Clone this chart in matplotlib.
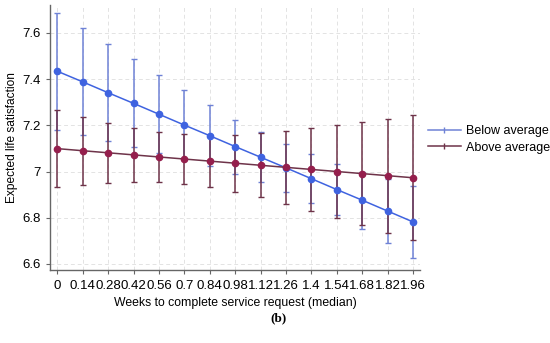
import matplotlib
matplotlib.use('Agg')
import matplotlib.pyplot as plt
from matplotlib.lines import Line2D

plt.rcParams['font.family'] = ['Liberation Sans', 'DejaVu Sans']

# margins by weeks to complete service request
weeks = [0, 0.14, 0.28, 0.42, 0.56, 0.7, 0.84, 0.98, 1.12, 1.26, 1.4, 1.54, 1.68, 1.82, 1.96]
week_labels = ['0', '0.14', '0.28', '0.42', '0.56', '0.7', '0.84', '0.98', '1.12',
               '1.26', '1.4', '1.54', '1.68', '1.82', '1.96']

below_mean = [7.434, 7.388, 7.341, 7.295, 7.248, 7.201, 7.155, 7.108, 7.062,
              7.016, 6.969, 6.922, 6.876, 6.829, 6.782]
below_ci = [0.253, 0.232, 0.211, 0.190, 0.169, 0.150, 0.132, 0.117, 0.108,
            0.104, 0.105, 0.112, 0.123, 0.138, 0.155]

above_mean = [7.099, 7.090, 7.081, 7.072, 7.063, 7.054, 7.045, 7.036, 7.027,
              7.018, 7.009, 7.000, 6.991, 6.982, 6.973]
above_ci = [0.167, 0.147, 0.130, 0.118, 0.110, 0.107, 0.112, 0.123, 0.139,
            0.157, 0.178, 0.200, 0.223, 0.247, 0.271]

y_ticks = [6.6, 6.8, 7.0, 7.2, 7.4, 7.6]
y_labels = ['6.6', '6.8', '7', '7.2', '7.4', '7.6']

BLUE_PT = '#3f63e0'
BLUE_BAR = '#6f82d6'
RED_PT = '#951f4d'
RED_BAR = '#6e3349'

fig = plt.figure(figsize=(5.5, 3.43), dpi=100)
ax = fig.add_axes([0.091, 0.213, 0.673, 0.772])

ax.grid(True, color='#e3e3e3', linestyle=(0, (4, 3)), linewidth=0.7)
ax.set_axisbelow(True)

ax.errorbar(weeks, below_mean, yerr=below_ci, fmt='none', ecolor=BLUE_BAR,
            elinewidth=1.1, capsize=2.5, capthick=1.0, zorder=2)
ax.errorbar(weeks, above_mean, yerr=above_ci, fmt='none', ecolor=RED_BAR,
            elinewidth=1.1, capsize=2.5, capthick=1.0, zorder=3)
ax.plot(weeks, below_mean, color=BLUE_PT, lw=1.1, marker='o', ms=4.5, zorder=4)
ax.plot(weeks, above_mean, color=RED_BAR, lw=1.1, marker='o', ms=4.5,
        mfc=RED_PT, mec=RED_PT, zorder=5)

ax.set_xlim(-0.04, 2.0)
ax.set_ylim(6.574, 7.72)
ax.set_xticks(weeks)
ax.set_xticklabels(week_labels)
ax.set_yticks(y_ticks)
ax.set_yticklabels(y_labels)
ax.tick_params(labelsize=9.5, length=3, color='#666666', pad=4)

for side in ['top', 'right']:
    ax.spines[side].set_visible(False)
for side in ['left', 'bottom']:
    ax.spines[side].set_color('#666666')
    ax.spines[side].set_linewidth(1.0)

ax.set_xlabel('Weeks to complete service request (median)', fontsize=8.8, labelpad=4)
ax.set_ylabel('Expected life satisfaction', fontsize=8.6, labelpad=3)

handles = [
    Line2D([0], [0], color=BLUE_BAR, lw=1.1, marker='|', ms=4, markevery=[0, 1],
           label='Below average'),
    Line2D([0], [0], color=RED_BAR, lw=1.1, marker='|', ms=4, markevery=[0, 1],
           label='Above average'),
]
fig.legend(handles=handles, loc='center left', bbox_to_anchor=(0.758, 0.593),
           frameon=False, fontsize=9, handlelength=2.6, handletextpad=0.45,
           labelspacing=0.35)

fig.text(0.507, 0.072, '(b)', fontsize=9.5, fontweight='bold',
         family=['Liberation Serif', 'DejaVu Serif'], ha='center', va='center')

plt.savefig('out.png', dpi=100)
